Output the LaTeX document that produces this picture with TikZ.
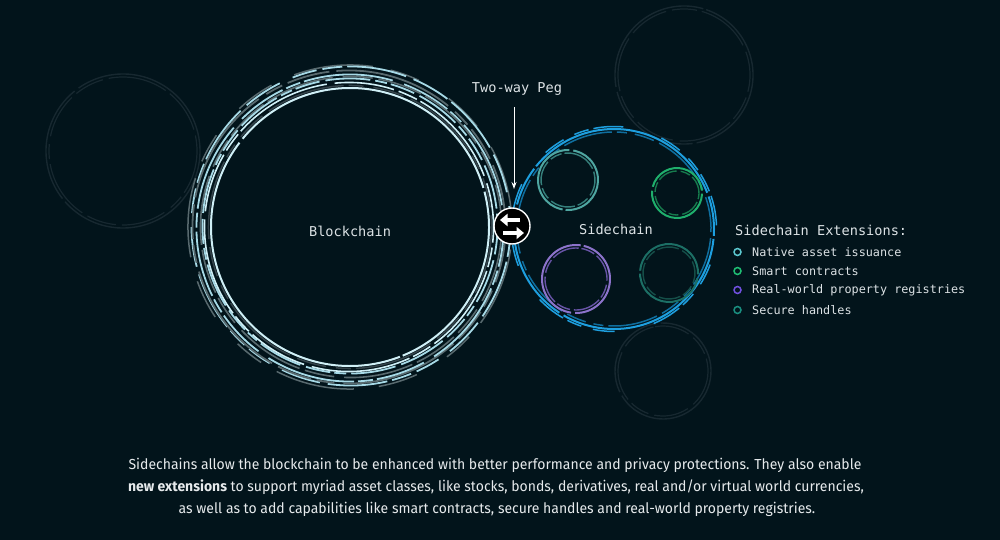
\documentclass[tikz,border=0pt]{standalone}
\usepackage{fontspec}
\setmainfont{Fira Sans}[FakeStretch=0.965]
\newfontfamily\monof{DejaVu Sans Mono}
\usetikzlibrary{arrows.meta}
\definecolor{bg}{HTML}{02141B}
\definecolor{txt}{HTML}{E6EAEC}
\definecolor{mono}{HTML}{DCE2E5}
\definecolor{lc}{HTML}{A6D9E6}
\definecolor{wc}{HTML}{CFEFF6}
\definecolor{gc}{HTML}{58696E}
\definecolor{dg}{HTML}{34434A}
\definecolor{faint}{HTML}{172830}
\definecolor{blu}{HTML}{1E9FDF}
\definecolor{dblu}{HTML}{0F6E9E}
\definecolor{teal1}{HTML}{4FA6A1}
\definecolor{teal1d}{HTML}{36807C}
\definecolor{grn}{HTML}{1FAF6C}
\definecolor{grnd}{HTML}{167B4D}
\definecolor{pur}{HTML}{8C73CB}
\definecolor{purd}{HTML}{6753A6}
\definecolor{teal2}{HTML}{1C6F65}
\definecolor{teal2d}{HTML}{154F49}
\definecolor{b1}{HTML}{5CC8CF}
\definecolor{b2}{HTML}{1FBF74}
\definecolor{b3}{HTML}{7150E0}
\definecolor{b4}{HTML}{1A8F80}
\newcommand\myring[7]{\draw[#4, line width=#5pt, dash pattern=#6, rotate around={#7:(#1,#2)}] (#1,#2) circle[radius=#3];}
\tikzset{
  monolabel/.style={font=\monof\fontsize{13.6}{15}\selectfont, text=mono, inner sep=0pt},
  legitem/.style={font=\monof\fontsize{11.8}{13}\selectfont, text=mono, anchor=west, inner sep=0pt},
  bullet/.style={circle, draw=#1, line width=1.5pt, minimum size=7pt, inner sep=0pt},
  bodytext/.style={font=\fontsize{14.5}{17}\selectfont, text=txt, anchor=base, inner sep=0pt},
  pegarrow/.style={white, line width=3.4pt, -{Triangle[length=7.5pt,width=12pt]}},
}
\begin{document}
\begin{tikzpicture}[x=1pt,y=-1pt]
\fill[bg] (0,0) rectangle (1000,540);
\useasboundingbox (0,0) rectangle (1000,540);

% faint background circles
\myring{123}{151}{77}{faint}{1.4}{on 200pt off 4pt on 120pt off 5pt on 160pt off 3pt}{10}
\myring{123}{151}{74}{faint}{1.2}{on 30pt off 6pt on 60pt off 5pt on 15pt off 8pt on 45pt off 6pt}{40}
\myring{684}{75}{69}{faint}{1.4}{on 180pt off 4pt on 100pt off 5pt on 140pt off 3pt}{70}
\myring{684}{75}{66}{faint}{1.2}{on 40pt off 6pt on 25pt off 5pt on 55pt off 7pt}{20}
\myring{663}{371}{48}{faint}{1.4}{on 150pt off 4pt on 90pt off 5pt}{30}
\myring{663}{371}{45}{faint}{1.2}{on 35pt off 6pt on 20pt off 5pt on 50pt off 7pt}{100}

% blockchain rings
\myring{350}{227}{162}{gc}{1.5}{on 40pt off 25pt on 80pt off 18pt on 30pt off 35pt}{15}
\myring{351}{226}{159.5}{lc}{1.8}{on 20pt off 5pt on 60pt off 8pt on 40pt off 14pt on 25pt off 6pt}{60}
\myring{349}{227}{156.5}{gc}{1.8}{on 35pt off 7pt on 120pt off 9pt on 18pt off 6pt}{110}
\myring{350}{228}{153.5}{lc}{1.8}{on 50pt off 4pt on 15pt off 4pt on 90pt off 12pt}{200}
\myring{351}{227}{150.5}{gc}{1.6}{on 70pt off 10pt on 30pt off 6pt on 45pt off 5pt}{250}
\myring{350}{226}{147.5}{lc}{1.8}{on 25pt off 6pt on 45pt off 5pt on 12pt off 4pt}{300}
\myring{349}{227}{144.5}{wc}{1.6}{on 60pt off 5pt on 20pt off 4pt on 100pt off 8pt}{330}
\myring{350}{227}{141.5}{dg}{1.5}{on 30pt off 8pt on 80pt off 5pt on 15pt off 10pt}{80}
\myring{350}{227}{139}{wc}{2}{on 300pt off 4pt on 200pt off 3pt on 360pt off 5pt}{140}
\node[monolabel] (bc) at (350,231) {Blockchain};

% sidechain rings
\myring{614}{229}{102.5}{blu}{1.5}{on 15pt off 5pt on 30pt off 40pt on 22pt off 12pt}{30}
\myring{614}{229}{100}{blu}{2}{on 120pt off 4pt on 40pt off 3pt on 200pt off 5pt}{90}
\myring{614}{229}{97}{dblu}{1.5}{on 20pt off 6pt on 50pt off 5pt on 10pt off 8pt}{10}
\node[monolabel] (sc) at (616,229) {Sidechain};

% inner circles
\myring{568}{180}{30}{teal1}{2}{on 60pt off 3pt on 90pt off 4pt}{20}
\myring{568}{180}{27}{teal1d}{1.4}{on 12pt off 3pt on 25pt off 4pt}{50}
\myring{677}{193}{25}{grn}{2}{on 50pt off 3pt on 80pt off 4pt}{120}
\myring{677}{193}{22}{grnd}{1.4}{on 10pt off 3pt on 20pt off 4pt}{10}
\myring{576}{279}{34}{pur}{2}{on 70pt off 3pt on 100pt off 4pt}{200}
\myring{576}{279}{31}{purd}{1.4}{on 14pt off 3pt on 28pt off 4pt}{80}
\myring{669}{273}{29}{teal2}{2}{on 60pt off 3pt on 90pt off 4pt}{300}
\myring{669}{273}{26}{teal2d}{1.4}{on 12pt off 3pt on 22pt off 4pt}{150}

% peg
\node[circle, fill=black, draw=white, line width=1.4pt, minimum size=36pt, inner sep=0pt] (peg) at (512,226) {};
\coordinate (a1s) at (520,220);
\coordinate (a1e) at (500,220);
\coordinate (a2s) at (503,233);
\coordinate (a2e) at (524,233);
\draw[pegarrow] (a1s) -- (a1e);
\draw[pegarrow] (a2s) -- (a2e);
\node[monolabel] (peglabel) at (517,89.5) {Two-way Peg};
\coordinate (arrowtop) at (514,107);
\coordinate (arrowend) at (514,189);
\draw[white, line width=1pt, -{Stealth[length=7pt,width=5pt]}] (arrowtop) -- (arrowend);

% legend
\node[monolabel, anchor=west] (legtitle) at (735,230) {Sidechain Extensions:};
\node[bullet=b1] (bu1) at (737.5,252) {};
\node[legitem] (li1) at (752,252) {Native asset issuance};
\node[bullet=b2] (bu2) at (737.5,271) {};
\node[legitem] (li2) at (752,271) {Smart contracts};
\node[bullet=b3] (bu3) at (737.5,290) {};
\node[legitem] (li3) at (752,290) {Real-world property registries};
\node[bullet=b4] (bu4) at (737.5,310) {};
\node[legitem] (li4) at (752,310) {Secure handles};

% bottom text
\node[bodytext] (t1) at (495,469.5) {Sidechains allow the blockchain to be enhanced with better performance and privacy protections. They also enable};
\node[bodytext] (t2) at (496,491.5) {\textbf{new extensions} to support myriad asset classes, like stocks, bonds, derivatives, real and/or virtual world currencies,};
\node[bodytext] (t3) at (497,513.5) {as well as to add capabilities like smart contracts, secure handles and real-world property registries.};
\end{tikzpicture}
\end{document}
